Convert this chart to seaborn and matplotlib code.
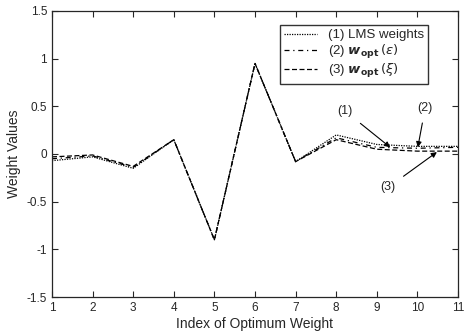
import numpy as np
import pandas as pd
import matplotlib
matplotlib.use("Agg")
import matplotlib.pyplot as plt
import seaborn as sns

# data
index = [1, 2, 3, 4, 5, 6, 7, 8, 9, 10, 11]
lms_weights = [-0.07, -0.03, -0.15, 0.15, -0.90, 0.95, -0.08, 0.20, 0.10, 0.08, 0.08]
wopt_eps = [-0.05, -0.02, -0.14, 0.15, -0.90, 0.95, -0.08, 0.17, 0.07, 0.06, 0.07]
wopt_xi = [-0.03, -0.01, -0.13, 0.15, -0.90, 0.95, -0.08, 0.15, 0.05, 0.03, 0.03]

labels = ["(1) LMS weights",
          r"(2) $\boldsymbol{w}_{\mathbf{opt}}\,(\varepsilon)$",
          r"(3) $\boldsymbol{w}_{\mathbf{opt}}\,(\xi)$"]

df = pd.DataFrame({
    "index": index * 3,
    "value": lms_weights + wopt_eps + wopt_xi,
    "series": [labels[0]] * 11 + [labels[1]] * 11 + [labels[2]] * 11,
})

sns.set_style("ticks")
plt.rcParams["font.family"] = ["Liberation Sans", "DejaVu Sans"]
plt.rcParams["mathtext.fontset"] = "dejavusans"

fig = plt.figure(figsize=(4.7, 3.31), dpi=100)
ax = fig.add_axes([0.1106, 0.1027, 0.8639, 0.8641])

dashes = {labels[0]: (1, 1), labels[1]: (4, 3, 1, 3), labels[2]: (4, 2)}
sns.lineplot(data=df, x="index", y="value", hue="series", style="series",
             palette=["black"] * 3, dashes=dashes, linewidth=0.9, ax=ax)

ax.set_xlim(1, 11)
ax.set_ylim(-1.5, 1.5)
ax.set_xticks(index)
ax.set_yticks([-1.5, -1, -0.5, 0, 0.5, 1, 1.5])
ax.set_yticklabels(["-1.5", "-1", "-0.5", "0", "0.5", "1", "1.5"])
ax.tick_params(direction="in", top=True, right=True, labelsize=8.5, length=4, width=0.8)
for s in ax.spines.values():
    s.set_linewidth(0.9)
ax.set_xlabel("Index of Optimum Weight", fontsize=10, labelpad=2)
ax.set_ylabel("Weight Values", fontsize=10, labelpad=4)

leg = ax.legend(loc="upper right", bbox_to_anchor=(0.926, 0.951), borderaxespad=0,
                fontsize=9.5, frameon=True, fancybox=False, edgecolor="black",
                handlelength=2.5, labelspacing=0.1, borderpad=0.3)
leg.get_frame().set_linewidth(1.0)

arrow = dict(arrowstyle="-|>", color="black", lw=0.8, mutation_scale=8, shrinkA=4, shrinkB=0)
ax.annotate("(1)", xy=(9.33, 0.07), xytext=(8.22, 0.45), fontsize=9,
            ha="center", va="center", arrowprops=arrow)
ax.annotate("(2)", xy=(10.01, 0.07), xytext=(10.19, 0.48), fontsize=9,
            ha="center", va="center", arrowprops=arrow)
ax.annotate("(3)", xy=(10.48, 0.02), xytext=(9.28, -0.35), fontsize=9,
            ha="center", va="center", arrowprops=arrow)

fig.savefig("out.png", dpi=100)
